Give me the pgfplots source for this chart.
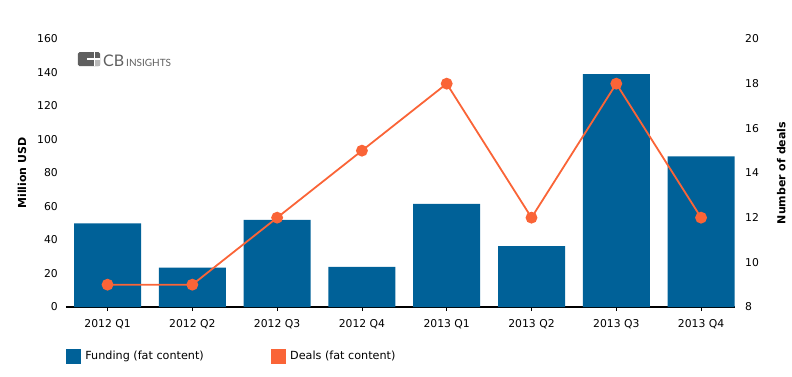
\documentclass[border=0pt]{standalone}
\usepackage{pgfplots}
\pgfplotsset{compat=1.18}
\usepackage{fontspec}
\setmainfont{DejaVu Sans}
\newfontfamily\logofont{Lato}
\definecolor{barblue}{RGB}{0,97,152}
\definecolor{dealorange}{RGB}{250,100,55}
\definecolor{logogray}{RGB}{95,95,95}
\begin{document}
\begin{tikzpicture}
\path[use as bounding box] (-66pt,-69pt) rectangle (726pt,307pt);
\begin{axis}[
  scale only axis, width=669pt, height=268pt,
  xmin=-0.49, xmax=7.4, ymin=0, ymax=160,
  ytick={0,20,...,160},
  xtick={0,...,7},
  xticklabels={2012 Q1,2012 Q2,2012 Q3,2012 Q4,2013 Q1,2013 Q2,2013 Q3,2013 Q4},
  /pgf/number format/assume math mode=true,
  axis x line*=bottom, axis y line*=left,
  x axis line style={-, line width=1.2pt, black},
  y axis line style={draw=none},
  major y tick style={draw=none},
  major x tick style={black, line width=0.6pt},
  xtick align=outside, major tick length=4pt,
  tick label style={font=\fontsize{10.8}{12}\selectfont, inner sep=0pt},
  yticklabel style={xshift=-8pt},
  xticklabel style={yshift=-8pt},
  ylabel={Million USD},
  ylabel style={font=\fontsize{11}{13}\selectfont\bfseries, at={(axis description cs:-0.0658,0.5)}, anchor=center},
  legend columns=2,
  legend style={draw=none, at={(axis description cs:0,0)}, anchor=north west, yshift=-42pt,
    inner sep=0pt, outer sep=0pt, font=\fontsize{11.2}{13}\selectfont,
    nodes={inner sep=0pt},
    /tikz/every odd column/.append style={column sep=5pt},
    /tikz/every even column/.append style={column sep=67pt}},
  legend cell align=left,
]
\addplot[ybar, bar width=67pt, bar shift=0pt, fill=barblue, draw=none, forget plot]
  coordinates {(0,50) (1,23.5) (2,52) (3,24) (4,61.5) (5,36.3) (6,139) (7,90)};
\addlegendimage{legend image code/.code={\fill[barblue] (0pt,-7pt) rectangle (14pt,7pt);}}
\addlegendentry{Funding (fat content)}
\addlegendimage{legend image code/.code={\fill[dealorange] (0pt,-7pt) rectangle (14pt,7pt);}}
\addlegendentry{Deals (fat content)}
\end{axis}
\begin{axis}[
  scale only axis, width=669pt, height=268pt,
  xmin=-0.49, xmax=7.4, ymin=8, ymax=20,
  ytick={8,10,...,20},
  /pgf/number format/assume math mode=true,
  axis y line*=right, axis x line=none,
  y axis line style={draw=none},
  major y tick style={draw=none},
  tick label style={font=\fontsize{10.8}{12}\selectfont, inner sep=0pt},
  yticklabel style={xshift=10pt},
  ylabel={Number of deals},
  ylabel style={font=\fontsize{11}{13}\selectfont\bfseries, at={(axis description cs:1.0690,0.5)}, anchor=center},
  clip=false,
]
\addplot[dealorange, line width=1.8pt, mark=*, mark size=5pt, mark options={fill=dealorange, draw=none}]
  coordinates {(0,9) (1,9) (2,12) (3,15) (4,18) (5,12) (6,18) (7,12)};
\end{axis}
% logo
\fill[logogray, rounded corners=1.5pt] (12pt,241pt) rectangle (34pt,255pt);
\fill[gray!55] (28pt,241pt) rectangle (34pt,248pt);
\fill[white] (27.5pt,241pt) rectangle (29pt,255pt);
\fill[white] (21pt,247.5pt) rectangle (34pt,249pt);
\node[anchor=base west, inner sep=0pt, text=logogray, font=\logofont\fontsize{16}{16}\selectfont] at (37pt,241pt) {CB};
\node[anchor=base west, inner sep=0pt, text=logogray, font=\logofont\fontsize{10}{10}\selectfont] at (60pt,241pt) {INSIGHTS};
\end{tikzpicture}
\end{document}
